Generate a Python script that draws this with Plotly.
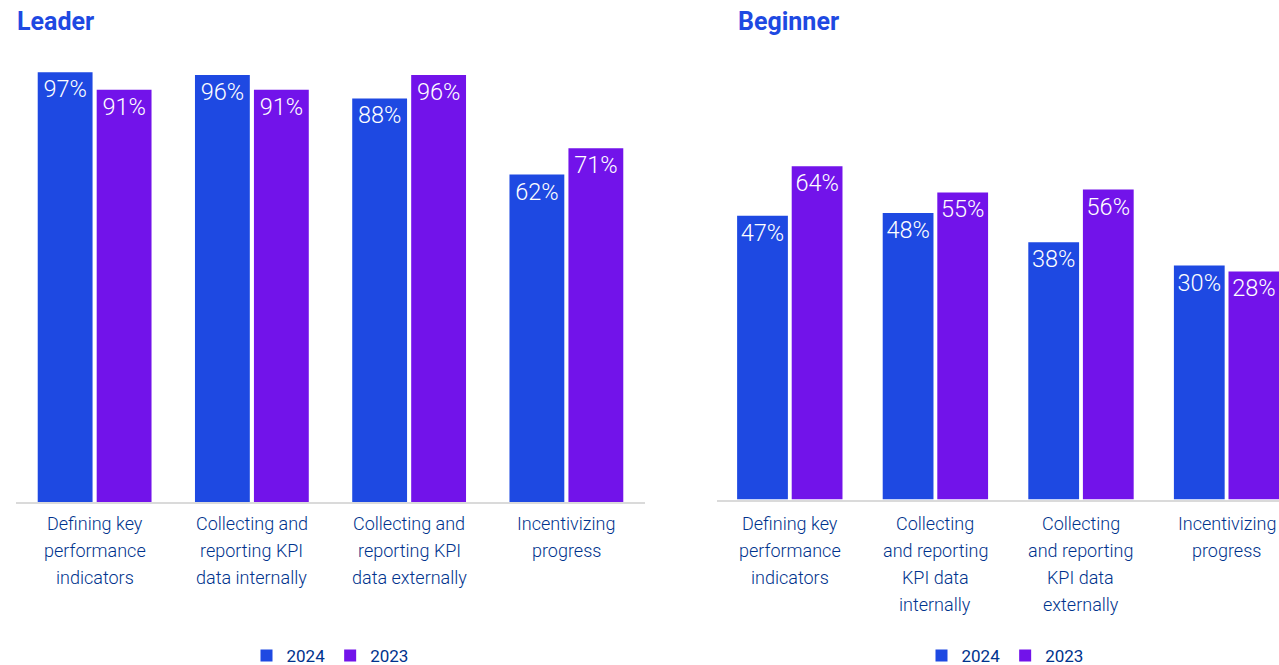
import plotly.graph_objects as go

categories_leader = [
    "Defining key<br>performance<br>indicators",
    "Collecting and<br>reporting KPI<br>data internally",
    "Collecting and<br>reporting KPI<br>data externally",
    "Incentivizing<br>progress",
]
categories_beginner = [
    "Defining key<br>performance<br>indicators",
    "Collecting<br>and reporting<br>KPI data<br>internally",
    "Collecting<br>and reporting<br>KPI data<br>externally",
    "Incentivizing<br>progress",
]
leader_2024 = [97, 96, 88, 62]
leader_2023 = [91, 91, 96, 71]
beginner_2024 = [47, 48, 38, 30]
beginner_2023 = [64, 55, 56, 28]
series_names = ["2024", "2023"]

BLUE = "#1E49E2"
PURPLE = "#7213EA"
NAVY = "#00338D"
BASE = -50  # visual baseline of the value axis
W, H = 1279, 665


def fx(px):
    return px / W


def fy(py):
    return 1 - py / H


fig = go.Figure()


def add_bars(cats, vals, name, color, xa, ya, legend):
    fig.add_trace(go.Bar(
        x=list(range(len(cats))),
        y=[v - BASE for v in vals],
        base=BASE,
        name=name,
        marker=dict(color=color, line=dict(width=0)),
        text=[f"{v}%" for v in vals],
        textposition="inside",
        insidetextanchor="end",
        constraintext="none",
        textfont=dict(family="Roboto", size=23.5, color="white", weight=300),
        xaxis=xa, yaxis=ya, legend=legend,
        hoverinfo="skip",
    ))


add_bars(categories_leader, leader_2024, series_names[0], BLUE, "x", "y", "legend")
add_bars(categories_leader, leader_2023, series_names[1], PURPLE, "x", "y", "legend")
add_bars(categories_beginner, beginner_2024, series_names[0], BLUE, "x2", "y2", "legend2")
add_bars(categories_beginner, beginner_2023, series_names[1], PURPLE, "x2", "y2", "legend2")

xcommon = dict(
    showgrid=False, zeroline=False, showline=True, linecolor="#dadada", linewidth=2,
    ticks="", showticklabels=False, fixedrange=True,
)
ycommon = dict(range=[BASE, 108], visible=False, showgrid=False, zeroline=False, fixedrange=True)

annotations = [
    dict(text="<b>Leader</b>", x=fx(15), y=fy(22), xref="paper", yref="paper",
         xanchor="left", yanchor="middle", showarrow=False,
         font=dict(family="Roboto", size=25, color=BLUE)),
    dict(text="<b>Beginner</b>", x=fx(736), y=fy(22), xref="paper", yref="paper",
         xanchor="left", yanchor="middle", showarrow=False,
         font=dict(family="Roboto", size=25, color=BLUE)),
]

# category labels, one annotation per line to reproduce the wide line spacing
for cats, xref in ((categories_leader, "x"), (categories_beginner, "x2")):
    for i, lab in enumerate(cats):
        for k, line in enumerate(lab.split("<br>")):
            annotations.append(dict(
                text=line, x=i, xref=xref, y=fy(523 + 27 * k), yref="paper",
                xanchor="center", yanchor="middle", showarrow=False,
                font=dict(family="Roboto", size=18, color=NAVY, weight=300),
            ))

fig.update_layout(
    width=W, height=H,
    margin=dict(l=0, r=0, t=0, b=0, autoexpand=False),
    paper_bgcolor="white", plot_bgcolor="white",
    barmode="group", bargap=0.25, bargroupgap=0.07,
    xaxis=dict(xcommon, domain=[fx(16), fx(645)], range=[-0.5, 3.5], anchor="y"),
    yaxis=dict(ycommon, domain=[fy(502), fy(40)], anchor="x"),
    xaxis2=dict(xcommon, domain=[fx(717), 1.0], range=[-0.5, 3.36], anchor="y2"),
    yaxis2=dict(ycommon, domain=[fy(499.5), fy(37.5)], anchor="x2"),
    legend=dict(orientation="h", x=fx(330), xanchor="center", y=fy(656), yanchor="middle",
                font=dict(family="Roboto", size=17, color=NAVY), bgcolor="rgba(0,0,0,0)"),
    legend2=dict(orientation="h", x=fx(1005), xanchor="center", y=fy(656), yanchor="middle",
                 font=dict(family="Roboto", size=17, color=NAVY), bgcolor="rgba(0,0,0,0)"),
    annotations=annotations,
)

fig.write_html(
    "out.html",
    config={"displayModeBar": False, "staticPlot": True},
    post_script=(
        "var h=document.documentElement, b=document.body;"
        "h.style.margin='0'; h.style.padding='0'; h.style.overflow='hidden';"
        "b.style.margin='0'; b.style.padding='0'; b.style.overflow='hidden';"
    ),
)
